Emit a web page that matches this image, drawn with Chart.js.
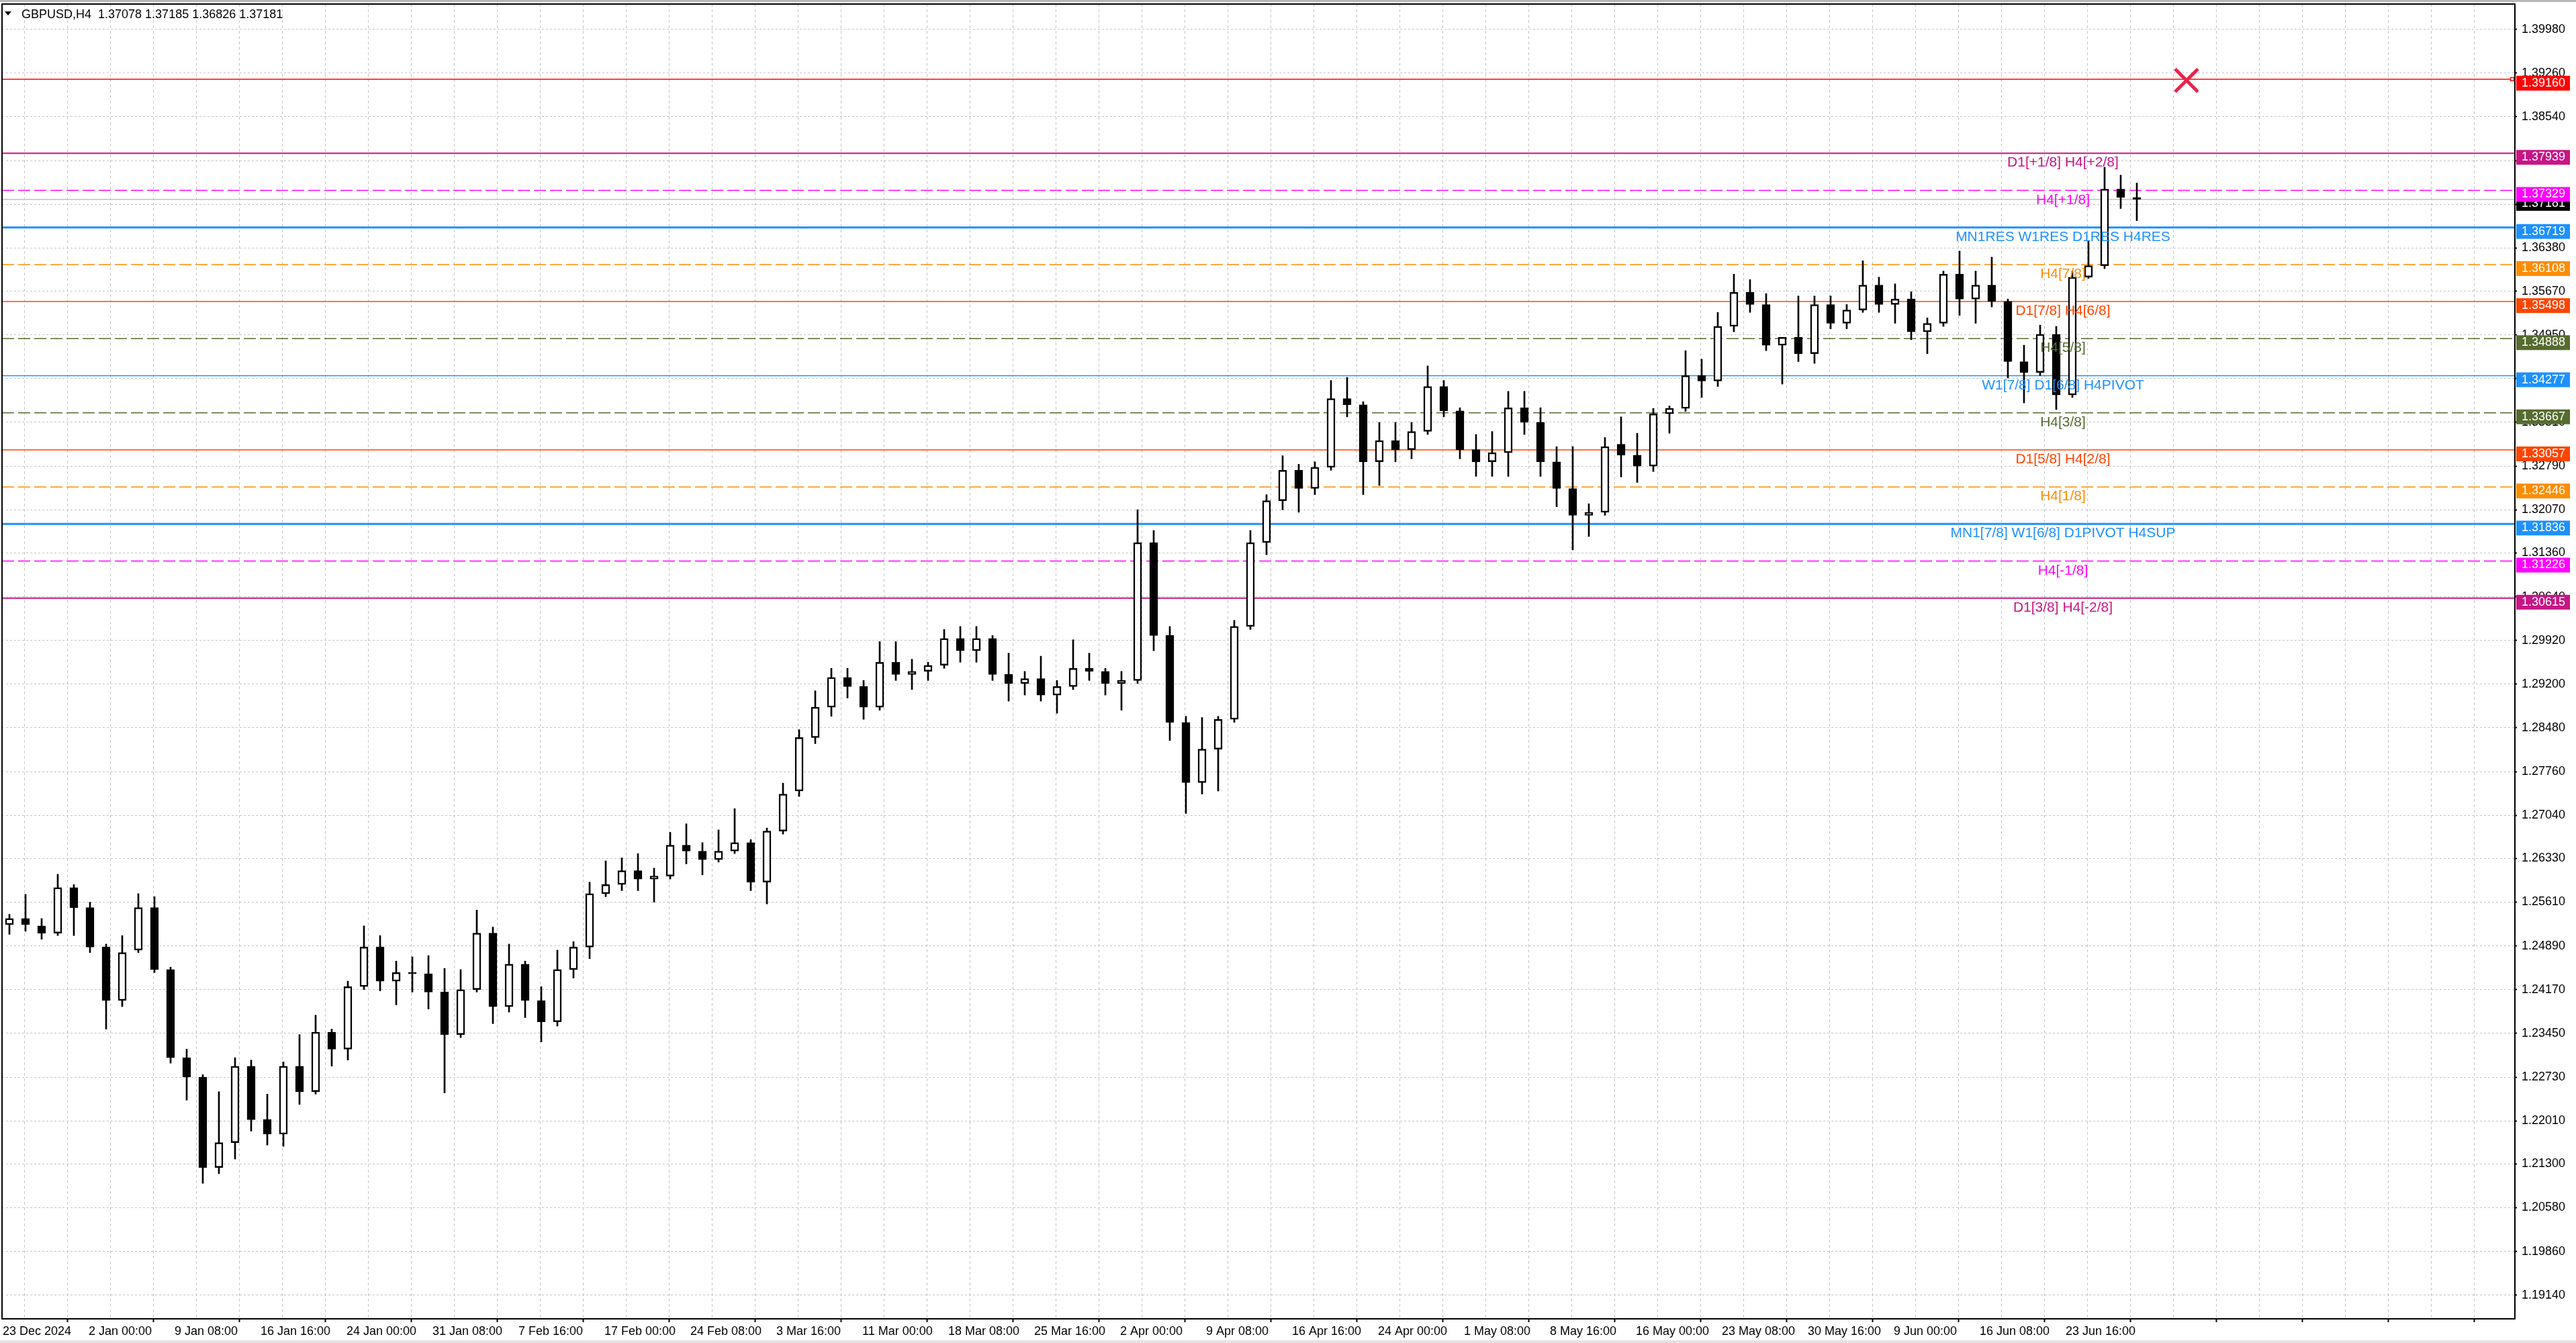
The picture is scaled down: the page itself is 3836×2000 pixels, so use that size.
<!DOCTYPE html>
<html>
<head>
<meta charset="utf-8">
<title>GBPUSD,H4</title>
<script src="https://cdn.jsdelivr.net/npm/chart.js@4.4.1/dist/chart.umd.min.js"></script>
<style>
  html, body { margin: 0; padding: 0; background: #fff; overflow: hidden; }
  #wrap { width: 3836px; height: 2000px; }
</style>
</head>
<body>
<div id="wrap"><canvas id="chart" width="3836" height="2000"></canvas></div>
<script>
// --- DATA (one candle per trading day) ---
const opens = [
  1.2524, 1.2534, 1.2522, 1.2510, 1.2585, 1.2552, 1.2487, 1.2399, 1.2482, 1.2552,
  1.2450, 1.2305, 1.2273, 1.2124, 1.2165, 1.2291, 1.2203, 1.2179, 1.2291, 1.2249,
  1.2347, 1.2319, 1.2422, 1.2487, 1.2431, 1.2445, 1.2443, 1.2413, 1.2343, 1.2417,
  1.2510, 1.2389, 1.2459, 1.2399, 1.2364, 1.2450, 1.2487, 1.2575, 1.2590, 1.2613,
  1.2599, 1.2604, 1.2655, 1.2645, 1.2631, 1.2645, 1.2659, 1.2594, 1.2678, 1.2744,
  1.2832, 1.2882, 1.2931, 1.2916, 1.2882, 1.2956, 1.2936, 1.2941, 1.2951, 1.2995,
  1.2975, 1.2995, 1.2936, 1.2921, 1.2929, 1.2902, 1.2916, 1.2946, 1.2941, 1.2921,
  1.2926, 1.3153, 1.3000, 1.2857, 1.2758, 1.2813, 1.2862, 1.3015, 1.3153, 1.3222,
  1.3272, 1.3242, 1.3277, 1.3390, 1.3380, 1.3286, 1.3321, 1.3306, 1.3336, 1.3410,
  1.3370, 1.3306, 1.3286, 1.3301, 1.3375, 1.3351, 1.3286, 1.3242, 1.3198, 1.3203,
  1.3315, 1.3297, 1.3279, 1.3365, 1.3374, 1.3428, 1.3419, 1.3509, 1.3565, 1.3545,
  1.3478, 1.3491, 1.3464, 1.3545, 1.3514, 1.3536, 1.3577, 1.3545, 1.3554, 1.3500,
  1.3514, 1.3595, 1.3554, 1.3577, 1.3550, 1.3451, 1.3433, 1.3496, 1.3396, 1.3590,
  1.3609, 1.3735, 1.3721
];
const highs = [
  1.2541, 1.2574, 1.2534, 1.2607, 1.2590, 1.2561, 1.2492, 1.2506, 1.2575, 1.2570,
  1.2454, 1.2319, 1.2277, 1.2249, 1.2305, 1.2301, 1.2245, 1.2298, 1.2343, 1.2375,
  1.2352, 1.2431, 1.2522, 1.2506, 1.2464, 1.2471, 1.2473, 1.2452, 1.2450, 1.2548,
  1.2520, 1.2492, 1.2464, 1.2422, 1.2482, 1.2496, 1.2594, 1.2629, 1.2634, 1.2641,
  1.2617, 1.2676, 1.2690, 1.2659, 1.2680, 1.2715, 1.2664, 1.2683, 1.2757, 1.2845,
  1.2909, 1.2946, 1.2946, 1.2926, 1.2990, 1.2990, 1.2961, 1.2956, 1.3010, 1.3015,
  1.3015, 1.3000, 1.2971, 1.2941, 1.2966, 1.2926, 1.2993, 1.2971, 1.2946, 1.2941,
  1.3207, 1.3173, 1.3015, 1.2867, 1.2865, 1.2867, 1.3025, 1.3173, 1.3232, 1.3296,
  1.3282, 1.3286, 1.3420, 1.3425, 1.3385, 1.3351, 1.3351, 1.3351, 1.3444, 1.3420,
  1.3375, 1.3331, 1.3336, 1.3402, 1.3402, 1.3375, 1.3311, 1.3311, 1.3217, 1.3326,
  1.3360, 1.3333, 1.3374, 1.3378, 1.3469, 1.3455, 1.3532, 1.3595, 1.3586, 1.3563,
  1.3491, 1.3559, 1.3559, 1.3559, 1.3545, 1.3617, 1.3590, 1.3579, 1.3566, 1.3523,
  1.3600, 1.3633, 1.3600, 1.3623, 1.3554, 1.3478, 1.3511, 1.3509, 1.3600, 1.3649,
  1.3771, 1.3758, 1.3745
];
const lows = [
  1.2508, 1.2513, 1.2500, 1.2506, 1.2506, 1.2478, 1.2352, 1.2389, 1.2478, 1.2445,
  1.2296, 1.2235, 1.2098, 1.2114, 1.2138, 1.2184, 1.2161, 1.2159, 1.2228, 1.2245,
  1.2291, 1.2301, 1.2417, 1.2415, 1.2392, 1.2413, 1.2385, 1.2247, 1.2338, 1.2413,
  1.2361, 1.2380, 1.2371, 1.2331, 1.2357, 1.2436, 1.2468, 1.2570, 1.2580, 1.2580,
  1.2561, 1.2599, 1.2624, 1.2606, 1.2627, 1.2641, 1.2580, 1.2558, 1.2673, 1.2735,
  1.2822, 1.2867, 1.2897, 1.2862, 1.2877, 1.2926, 1.2911, 1.2926, 1.2946, 1.2956,
  1.2956, 1.2926, 1.2892, 1.2902, 1.2892, 1.2872, 1.2911, 1.2926, 1.2902, 1.2877,
  1.2921, 1.2975, 1.2827, 1.2707, 1.2739, 1.2744, 1.2857, 1.3010, 1.3133, 1.3207,
  1.3203, 1.3232, 1.3272, 1.3360, 1.3232, 1.3247, 1.3286, 1.3291, 1.3331, 1.3360,
  1.3291, 1.3262, 1.3262, 1.3262, 1.3331, 1.3262, 1.3212, 1.3141, 1.3163, 1.3198,
  1.3261, 1.3252, 1.3270, 1.3333, 1.3369, 1.3392, 1.3410, 1.3500, 1.3532, 1.3469,
  1.3414, 1.3451, 1.3448, 1.3505, 1.3505, 1.3532, 1.3532, 1.3514, 1.3487, 1.3464,
  1.3509, 1.3527, 1.3514, 1.3541, 1.3424, 1.3383, 1.3428, 1.3372, 1.3392, 1.3588,
  1.3604, 1.3703, 1.3683
];
const closes = [
  1.2534, 1.2524, 1.2510, 1.2585, 1.2552, 1.2487, 1.2399, 1.2478, 1.2552, 1.2450,
  1.2305, 1.2273, 1.2124, 1.2165, 1.2291, 1.2203, 1.2179, 1.2291, 1.2249, 1.2347,
  1.2319, 1.2422, 1.2487, 1.2431, 1.2445, 1.2443, 1.2413, 1.2343, 1.2417, 1.2510,
  1.2389, 1.2459, 1.2399, 1.2364, 1.2450, 1.2487, 1.2575, 1.2590, 1.2613, 1.2599,
  1.2604, 1.2655, 1.2645, 1.2631, 1.2645, 1.2659, 1.2594, 1.2678, 1.2739, 1.2832,
  1.2882, 1.2931, 1.2916, 1.2882, 1.2956, 1.2936, 1.2941, 1.2951, 1.2995, 1.2975,
  1.2995, 1.2936, 1.2921, 1.2929, 1.2902, 1.2916, 1.2946, 1.2941, 1.2921, 1.2926,
  1.3153, 1.3000, 1.2857, 1.2758, 1.2813, 1.2862, 1.3015, 1.3153, 1.3222, 1.3272,
  1.3242, 1.3277, 1.3390, 1.3380, 1.3286, 1.3321, 1.3306, 1.3336, 1.3410, 1.3370,
  1.3306, 1.3286, 1.3301, 1.3375, 1.3351, 1.3286, 1.3242, 1.3198, 1.3203, 1.3311,
  1.3297, 1.3279, 1.3365, 1.3374, 1.3428, 1.3419, 1.3509, 1.3565, 1.3545, 1.3478,
  1.3491, 1.3464, 1.3545, 1.3514, 1.3536, 1.3577, 1.3545, 1.3554, 1.3500, 1.3514,
  1.3595, 1.3554, 1.3577, 1.3550, 1.3451, 1.3433, 1.3496, 1.3396, 1.3590, 1.3609,
  1.3735, 1.3721, 1.3718
];

// time axis labels, one every 32 H4 bars
const timeLabels = [
  '23 Dec 2024', '2 Jan 00:00', '9 Jan 08:00', '16 Jan 16:00', '24 Jan 00:00',
  '31 Jan 08:00', '7 Feb 16:00', '17 Feb 00:00', '24 Feb 08:00', '3 Mar 16:00',
  '11 Mar 00:00', '18 Mar 08:00', '25 Mar 16:00', '2 Apr 00:00', '9 Apr 08:00',
  '16 Apr 16:00', '24 Apr 00:00', '1 May 08:00', '8 May 16:00', '16 May 00:00',
  '23 May 08:00', '30 May 16:00', '9 Jun 00:00', '16 Jun 08:00', '23 Jun 16:00'
];

// price axis tick labels
const yTicks = [
  1.39980, 1.39260, 1.38540, 1.37820, 1.37100, 1.36380, 1.35670, 1.34950, 1.34230, 1.33510,
  1.32790, 1.32070, 1.31360, 1.30640, 1.29920, 1.29200, 1.28480, 1.27760, 1.27040, 1.26330,
  1.25610, 1.24890, 1.24170, 1.23450, 1.22730, 1.22010, 1.21300, 1.20580, 1.19860, 1.19140
];

// horizontal levels (Murrey / pivot indicator) and their tags
const levelPrices = [
  1.39160, 1.37939, 1.37329, 1.37181, 1.36719, 1.36108, 1.35498, 1.34888,
  1.34277, 1.33667, 1.33057, 1.32446, 1.31836, 1.31226, 1.30615
];
const levelTags = [
  '', 'D1[+1/8] H4[+2/8]', 'H4[+1/8]', '', 'MN1RES W1RES D1RES H4RES', 'H4[7/8]',
  'D1[7/8] H4[6/8]', 'H4[5/8]', 'W1[7/8] D1[6/8] H4PIVOT', 'H4[3/8]', 'D1[5/8] H4[2/8]',
  'H4[1/8]', 'MN1[7/8] W1[6/8] D1PIVOT H4SUP', 'H4[-1/8]', 'D1[3/8] H4[-2/8]'
];

// the red cross object
const markBars = [813];
const markPrices = [1.3914];

const quote = ['1.37078', '1.37185', '1.36826', '1.37181'];

// --- STYLE ---
const levelColors = ['#FF0000', '#C71585', '#FF00FF', '#C0C0C0', '#1E90FF', '#FF8C00', '#FF4500', '#556B2F',
                     '#1E90FF', '#556B2F', '#FF4500', '#FF8C00', '#1E90FF', '#FF00FF', '#C71585'];
const boxColors = levelColors.map((c, i) => (i === 3 ? '#000000' : c));
const levelDashed = [false, false, true, false, false, true, false, true, false, true, false, true, false, true, false];
const levelWidths = [1.5, 2, 1.5, 1.5, 3, 1.5, 1.5, 1.5, 1.5, 1.5, 1.5, 1.5, 3, 1.5, 2];

const BARS_PER_CANDLE = 6;
const X_MIN = -0.25, X_MAX = 935.25;
const Y_MIN = 1.18750, Y_MAX = 1.40397;
const TAG_BAR = 767;

Chart.defaults.font.family = '"Liberation Sans", Arial, sans-serif';
Chart.defaults.color = '#000';

const candleX = opens.map((_, i) => i * BARS_PER_CANDLE + 2.5);

const levelSets = levelPrices.map((p, i) => ({
  type: 'line',
  // the red alert line ends in a small square just inside the frame
  data: [{ x: X_MIN, y: p }, { x: i === 0 ? X_MAX - 1 : X_MAX, y: p }],
  borderColor: levelColors[i],
  borderWidth: levelWidths[i],
  borderDash: levelDashed[i] ? [18, 6] : [],
  pointRadius: i === 0 ? [0, 3.5] : 0,
  pointStyle: 'rect',
  pointBackgroundColor: '#fff',
  pointBorderColor: levelColors[i],
  pointBorderWidth: 1.5,
  tension: 0,
  order: 10
}));

const overlay = {
  id: 'overlay',
  beforeDraw(chart) {
    const { ctx, width, height } = chart;
    ctx.save();
    ctx.fillStyle = '#fff';
    ctx.fillRect(0, 0, width, height);
    ctx.fillStyle = '#B8B8B8';
    ctx.fillRect(0, 0, width, 3);
    ctx.fillStyle = '#E6E2E2';
    ctx.fillRect(0, 1996, width, 4);
    ctx.restore();
  },
  afterDraw(chart) {
    const { ctx, chartArea: a } = chart;
    const xs = chart.scales.x, ys = chart.scales.y;
    ctx.save();

    // frame round the plot
    ctx.strokeStyle = '#000';
    ctx.lineWidth = 2;
    ctx.strokeRect(a.left, a.top, a.right - a.left, a.bottom - a.top);

    // level tags under each line
    ctx.font = '21px "Liberation Sans"';
    ctx.textAlign = 'center';
    ctx.textBaseline = 'alphabetic';
    const tx = xs.getPixelForValue(TAG_BAR);
    levelPrices.forEach((p, i) => {
      if (!levelTags[i]) return;
      ctx.fillStyle = levelColors[i];
      ctx.fillText(levelTags[i], tx, ys.getPixelForValue(p) + 20);
    });

    // price boxes on the axis (current price first, others on top)
    ctx.font = '18px "Liberation Sans"';
    ctx.textAlign = 'left';
    ctx.textBaseline = 'middle';
    const order = [3].concat(levelPrices.map((_, i) => i).filter(i => i !== 3));
    order.forEach(i => {
      const py = ys.getPixelForValue(levelPrices[i]);
      ctx.fillStyle = boxColors[i];
      ctx.fillRect(a.right + 2, py - 5, 80, 22);
      ctx.fillStyle = '#fff';
      ctx.fillText(levelPrices[i].toFixed(5), a.right + 10, py + 6);
    });

    // title
    ctx.fillStyle = '#000';
    ctx.beginPath();
    ctx.moveTo(7, 17); ctx.lineTo(17, 17); ctx.lineTo(12, 23); ctx.closePath();
    ctx.fill();
    ctx.font = '18px "Liberation Sans"';
    ctx.textBaseline = 'middle';
    ctx.fillText('GBPUSD,H4  ' + quote.join(' '), 32, 22);
    ctx.restore();
  }
};

const chart = new Chart(document.getElementById('chart'), {
  type: 'bar',
  data: {
    datasets: [
      ...levelSets,
      {
        type: 'bar',
        data: candleX.map((x, i) => ({ x: x, y: [lows[i], highs[i]] })),
        backgroundColor: '#000',
        barThickness: 2,
        grouped: false,
        order: 5
      },
      {
        type: 'bar',
        data: candleX.map((x, i) => ({ x: x, y: [Math.min(opens[i], closes[i]), Math.max(opens[i], closes[i])] })),
        backgroundColor: opens.map((o, i) => (closes[i] >= o ? '#fff' : '#000')),
        borderColor: '#000',
        borderWidth: 2.5,
        borderSkipped: false,
        barThickness: 12,
        minBarLength: 2,
        grouped: false,
        order: 2
      },
      {
        type: 'scatter',
        data: markBars.map((b, i) => ({ x: b, y: markPrices[i] })),
        pointStyle: 'crossRot',
        pointRadius: 24,
        borderColor: '#E8234A',
        borderWidth: 5,
        order: 0
      }
    ]
  },
  options: {
    responsive: false,
    devicePixelRatio: 1,
    animation: false,
    events: [],
    layout: { autoPadding: false, padding: { left: 3, top: 6, right: 0, bottom: 0 } },
    plugins: { legend: { display: false }, tooltip: { enabled: false } },
    scales: {
      x: {
        type: 'linear',
        min: X_MIN,
        max: X_MAX,
        offset: false,
        afterBuildTicks: (scale) => {
          const t = [];
          for (let b = 0; b <= X_MAX; b += 16) t.push({ value: b });
          scale.ticks = t;
        },
        afterFit: (scale) => {
          scale.height = 36;
          scale.paddingLeft = 0;
          scale.paddingRight = 0;
        },
        ticks: {
          autoSkip: false,
          maxRotation: 0,
          align: 'start',
          padding: 3,
          font: { size: 18 },
          callback: (v) => (v % 32 === 0 ? (timeLabels[v / 32] || '') : '')
        },
        grid: {
          color: '#C4C4C4',
          lineWidth: 1,
          tickLength: 5,
          tickWidth: 2,
          tickColor: (c) => (c.tick && c.tick.value % 32 === 0 ? '#000' : 'rgba(0,0,0,0)'),
          tickBorderDash: []
        },
        border: { display: true, color: '#000', width: 2, dash: [4, 4] }
      },
      y: {
        position: 'right',
        min: Y_MIN,
        max: Y_MAX,
        afterBuildTicks: (scale) => {
          scale.ticks = yTicks.map(v => ({ value: v }));
        },
        afterFit: (scale) => {
          scale.width = 91;
          scale.paddingTop = 0;
          scale.paddingBottom = 0;
        },
        ticks: {
          autoSkip: false,
          padding: 7,
          font: { size: 18 },
          callback: (v) => Number(v).toFixed(5)
        },
        grid: {
          color: '#C4C4C4',
          lineWidth: 1,
          tickLength: 3,
          tickWidth: 2,
          tickColor: '#000',
          tickBorderDash: []
        },
        border: { display: true, color: '#000', width: 2, dash: [3, 3] }
      }
    }
  },
  plugins: [overlay]
});
</script>
</body>
</html>
